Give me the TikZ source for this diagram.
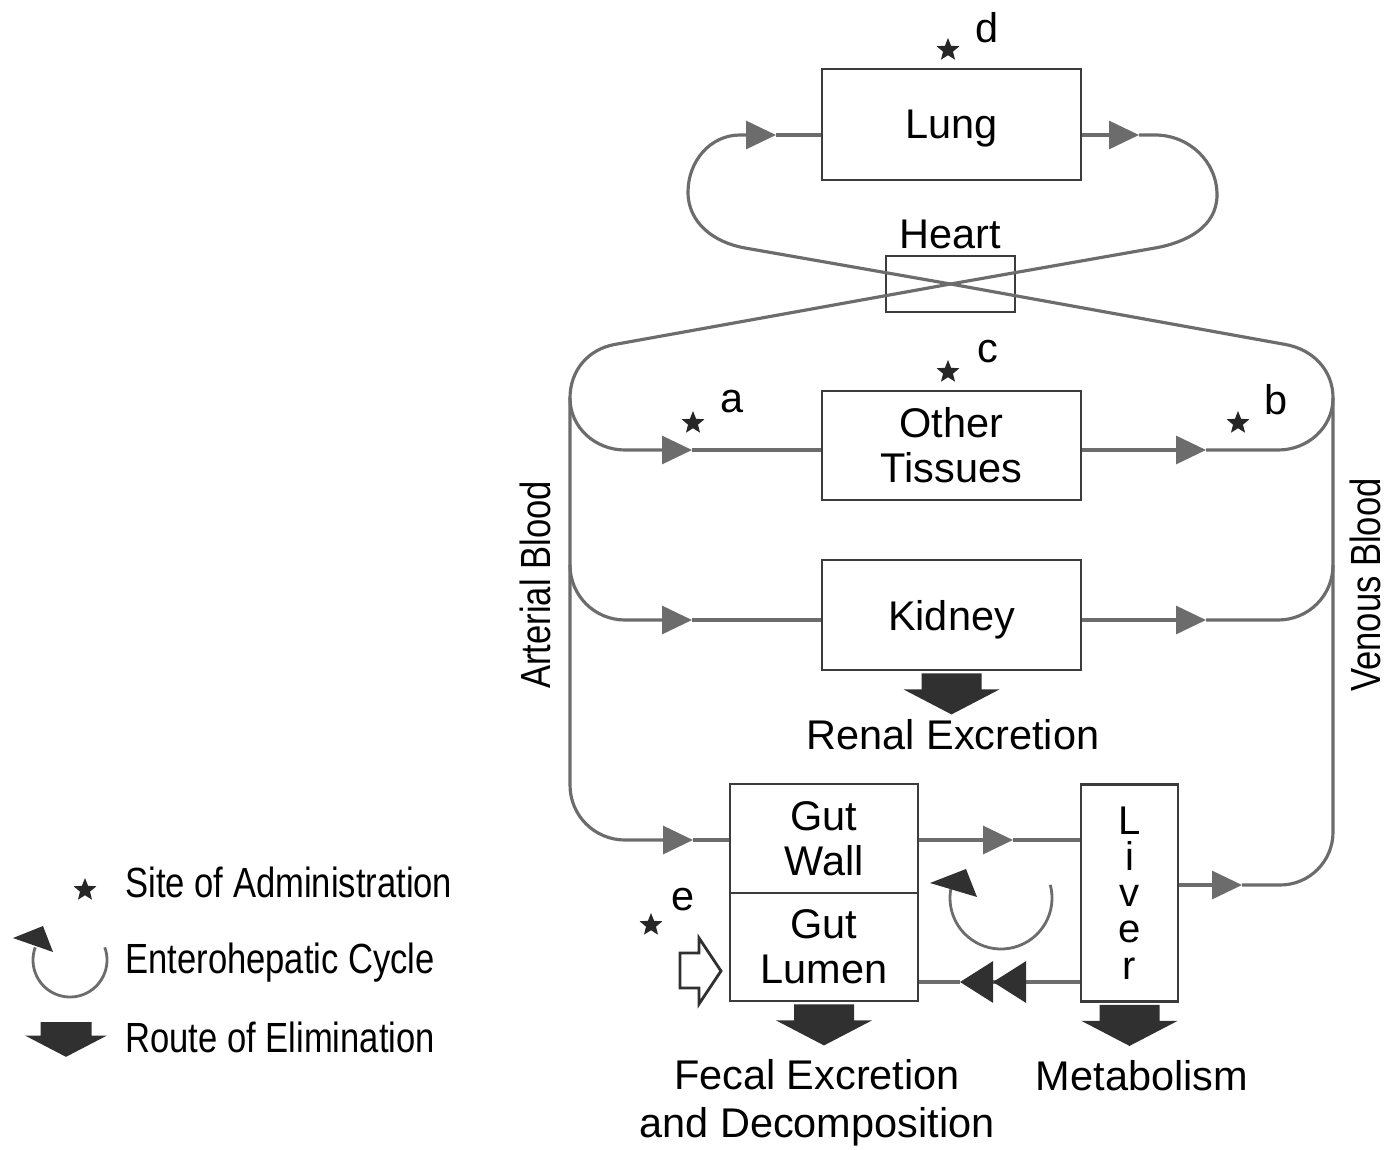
\documentclass[tikz,border=0pt]{standalone}
\usepackage{fontspec}
\setmainfont{Liberation Sans}
\newfontfamily\narrowfont{Liberation Sans}[FakeStretch=0.82]
\usetikzlibrary{arrows.meta,shapes.geometric}

\definecolor{flowgray}{RGB}{108,108,108}
\definecolor{boxgray}{RGB}{60,60,60}
\definecolor{tipdark}{RGB}{48,48,48}

\newcommand\mainlabel{\fontsize{11.8}{12.8}\selectfont}
\newcommand\legendlabel{\narrowfont\fontsize{12}{14}\selectfont}

\tikzset{
  box/.style={draw=boxgray, line width=0.8pt, fill=white, inner sep=0pt, align=center, font=\mainlabel},
  flow/.style={draw=flowgray, line width=0.9pt},
  tip/.style={-{Triangle[length=0.30cm,width=0.28cm]}},
  back/.style={-{Triangle[length=0.33cm,width=0.41cm,color=tipdark] Triangle[length=0.33cm,width=0.41cm,color=tipdark]}},
  sitemark/.style={star, star points=5, star point ratio=2.3, fill=black!85, inner sep=0pt, minimum size=0.24cm},
  lbl/.style={font=\mainlabel, align=center},
  sidelbl/.style={font=\legendlabel, rotate=90},
  legendtext/.style={font=\legendlabel, anchor=base west},
  cyc/.style={draw=flowgray, line width=0.8pt},
  elim/.pic={\fill[tipdark] (-0.30,0) -- (0.30,0) -- (0.30,-0.16) -- (0.48,-0.16) -- (0,-0.41) -- (-0.48,-0.16) -- (-0.30,-0.16) -- cycle;}
}

\begin{document}
\begin{tikzpicture}
	\useasboundingbox (0,0) rectangle (13.86,-11.49);

	% organs
	\node[box, minimum width=2.59cm, minimum height=1.11cm, text depth=0pt] (lung) at (9.515,-1.245) {Lung};
	\node[box, minimum width=1.29cm, minimum height=0.56cm] (heart) at (9.505,-2.84) {};
	\node[box, minimum width=2.59cm, minimum height=1.09cm] (ot) at (9.515,-4.455) {Other\\Tissues};
	\node[box, minimum width=2.59cm, minimum height=1.10cm, text depth=0pt] (kid) at (9.515,-6.15) {Kidney};
	\node[box, minimum width=1.88cm, minimum height=1.09cm] (wall) at (8.24,-8.385) {Gut\\Wall};
	\node[box, minimum width=1.88cm, minimum height=1.08cm] (lumen) at (8.24,-9.47) {Gut\\Lumen};
	\node[box, minimum width=0.97cm, minimum height=2.17cm, font=\fontsize{11.4}{10.3}\selectfont] (liver) at (11.295,-8.93) {L\\i\\v\\e\\r};

	\node[lbl] (heartlbl) at (9.50,-2.34) {Heart};
	\node[sidelbl] (arterial) at (5.35,-5.85) {Arterial Blood};
	\node[sidelbl] (venous) at (13.65,-5.85) {Venous Blood};

	% junctions and arrow points
	\coordinate (artTop) at (5.70,-3.98);
	\coordinate (venTop) at (13.33,-3.98);
	\coordinate (lungIn) at (7.76,-1.35);
	\coordinate (lungOut) at (11.39,-1.35);
	\coordinate (otIn) at (6.92,-4.50);
	\coordinate (otOut) at (12.06,-4.50);
	\coordinate (kidIn) at (6.92,-6.20);
	\coordinate (kidOut) at (12.06,-6.20);
	\coordinate (wallIn) at (6.93,-8.40);
	\coordinate (wallOut) at (10.13,-8.40);
	\coordinate (livOut) at (12.42,-8.85);
	\coordinate (ret) at (9.60,-9.82);

	% arterial side
	\draw[flow,tip] (lung.east |- lungOut) -- (lungOut);
	\draw[flow,tip] (lungOut) -- (11.55,-1.35) to[out=0,in=90] (12.17,-1.95) to[out=-90,in=10] (11.55,-2.48)
		-- (heart.center) -- (6.15,-3.444) to[out=190,in=90] (artTop) to[out=-90,in=180] (6.25,-4.50) -- (otIn);
	\draw[flow] (otIn) -- (ot.west |- otIn);
	\draw[flow,tip] (artTop) -- (5.70,-5.65) to[out=-90,in=180] (6.25,-6.20) -- (kidIn);
	\draw[flow] (kidIn) -- (kid.west |- kidIn);
	\draw[flow,tip] (5.70,-5.65) -- (5.70,-7.85) to[out=-90,in=180] (6.25,-8.40) -- (wallIn);
	\draw[flow] (wallIn) -- (wall.west |- wallIn);

	% venous side
	\draw[flow,tip] (ot.east |- otOut) -- (otOut);
	\draw[flow,tip] (otOut) -- (12.78,-4.50) to[out=0,in=-90] (venTop) to[out=90,in=-10] (12.85,-3.444)
		-- (heart.center) -- (7.45,-2.48) to[out=170,in=-90] (6.88,-1.92) to[out=90,in=180] (7.40,-1.35) -- (lungIn);
	\draw[flow] (lungIn) -- (lung.west |- lungIn);
	\draw[flow,tip] (kid.east |- kidOut) -- (kidOut);
	\draw[flow] (kidOut) -- (12.78,-6.20) to[out=0,in=-90] (13.33,-5.65);
	\draw[flow,tip] (liver.east |- livOut) -- (livOut);
	\draw[flow] (livOut) -- (12.80,-8.85) to[out=0,in=-90] (13.33,-8.32) -- (venTop);

	% gut and liver
	\draw[flow,tip] (wall.east |- wallOut) -- (wallOut);
	\draw[flow] (wallOut) -- (liver.west |- wallOut);
	\draw[flow,back] (liver.west |- ret) -- (ret);
	\draw[flow] (ret) -- (lumen.east |- ret);

	% enterohepatic cycle
	\draw[cyc] (10.01,-8.98) ++(15:0.51) arc[start angle=15, end angle=-200, radius=0.51];
	\fill[tipdark] (9.30,-8.83) -- (9.66,-8.69) -- (9.77,-8.97) -- cycle;

	% oral dose
	\draw[draw=tipdark, line width=0.8pt, fill=white] (6.80,-9.53) -- (6.99,-9.53) -- (6.99,-9.38) -- (7.21,-9.71)
		-- (6.99,-10.04) -- (6.99,-9.88) -- (6.80,-9.88) -- cycle;

	% elimination
	\pic at ([yshift=-0.02cm]kid.south) {elim};
	\pic at ([yshift=-0.02cm]lumen.south) {elim};
	\pic at ([yshift=-0.02cm]liver.south) {elim};
	\node[lbl] (renal) at (9.53,-7.35) {Renal Excretion};
	\node[lbl, font=\fontsize{11.8}{13.6}\selectfont] (fecal) at (8.17,-11.03) {Fecal Excretion\\and Decomposition};
	\node[lbl] (metab) at (11.42,-10.76) {Metabolism};

	% sites of administration
	\node[sitemark] (stard) at (9.48,-0.50) {};
	\node[lbl] (labd) at (9.87,-0.28) {d};
	\node[sitemark] (starc) at (9.48,-3.72) {};
	\node[lbl] (labc) at (9.88,-3.52) {c};
	\node[sitemark] (stara) at (6.93,-4.23) {};
	\node[lbl] (laba) at (7.32,-4.02) {a};
	\node[sitemark] (starb) at (12.38,-4.23) {};
	\node[lbl] (labb) at (12.76,-4.00) {b};
	\node[sitemark] (stare) at (6.51,-9.25) {};
	\node[lbl] (labe) at (6.83,-9.00) {e};

	% legend
	\node[sitemark] (legstar) at (0.85,-8.90) {};
	\node[legendtext] (legsite) at (1.13,-8.97) {Site of Administration};
	\draw[cyc] (0.70,-9.60) ++(20:0.37) arc[start angle=20, end angle=-200, radius=0.37];
	\fill[tipdark] (0.13,-9.38) -- (0.43,-9.26) -- (0.53,-9.52) -- cycle;
	\node[legendtext] (legcyc) at (1.13,-9.73) {Enterohepatic Cycle};
	\pic[scale=0.85] at (0.66,-10.22) {elim};
	\node[legendtext] (legroute) at (1.13,-10.52) {Route of Elimination};
\end{tikzpicture}
\end{document}
